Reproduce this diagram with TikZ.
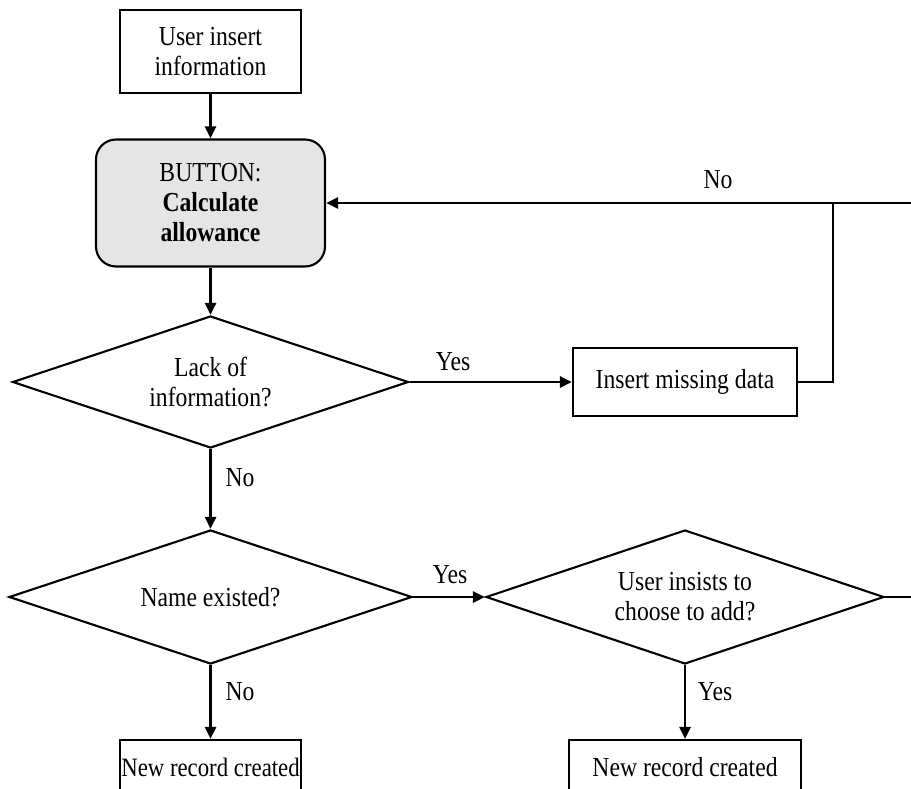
\documentclass[tikz,border=0pt]{standalone}
\usepackage{fontspec}
\setmainfont[FakeStretch=0.86]{Liberation Serif}
\usetikzlibrary{shapes.geometric,arrows.meta}
\begin{document}
\begin{tikzpicture}[x=1pt,y=1pt,
  every node/.style={font=\fontsize{27.5}{30}\selectfont},
  procbox/.style={draw,line width=2.1pt,align=center,inner sep=0pt},
  btnbox/.style={draw,line width=2.1pt,align=center,inner sep=0pt,rounded corners=20pt,fill=gray!20},
  decision/.style={draw,diamond,line width=2.1pt,align=center,inner sep=0pt,shape aspect=3},
  conn/.style={line width=2.6pt},
  arr/.style={conn,-{Triangle[length=12pt,width=11pt]}},
  lbl/.style={inner sep=0pt}]
\useasboundingbox (0,0) rectangle (911,-789);
\node[procbox,minimum width=181pt,minimum height=83pt] (u) at (210.5,-51.5) {User insert\\information};
\node[btnbox,minimum width=229pt,minimum height=127pt] (btn) at (210.5,-203) {BUTTON:\\\textbf{Calculate}\\\textbf{allowance}};
\node[decision,minimum width=396pt,minimum height=132pt] (d1) at (210.5,-382) {Lack of\\information?};
\node[procbox,minimum width=224pt,minimum height=68pt] (ins) at (685,-382) {Insert missing data};
\node[decision,minimum width=403pt,minimum height=134pt] (d2) at (210.5,-597) {Name existed?};
\node[decision,minimum width=398pt,minimum height=134pt] (d3) at (685,-597) {User insists to\\choose to add?};
\node[procbox,minimum width=181pt,minimum height=54pt,font=\fontsize{26.5}{30}\selectfont] (r1) at (210.5,-767) {New record created};
\node[procbox,minimum width=232pt,minimum height=54pt] (r2) at (685,-767) {New record created};
\coordinate (e1) at (911,-203);
\coordinate (j) at (833,-203);
\coordinate (e2) at (911,-597);
\draw[arr] (u) -- (btn);
\draw[arr] (btn) -- (d1);
\draw[arr] (d1.east) -- (ins.west);
\draw[conn] (ins.east) -| (j);
\draw[arr] (e1) -- (btn.east);
\draw[arr] (d1.south) -- (d2.north);
\draw[arr] (d2.east) -- (d3.west);
\draw[conn] (d3.east) -- (e2);
\draw[arr] (d2.south) -- (r1.north);
\draw[arr] (d3.south) -- (r2.north);
\node[lbl] (l1) at (718,-180) {No};
\node[lbl] (l2) at (453,-362) {Yes};
\node[lbl] (l3) at (240,-478) {No};
\node[lbl] (l4) at (450,-575) {Yes};
\node[lbl] (l5) at (240,-692) {No};
\node[lbl] (l6) at (715,-692) {Yes};
\end{tikzpicture}
\end{document}
